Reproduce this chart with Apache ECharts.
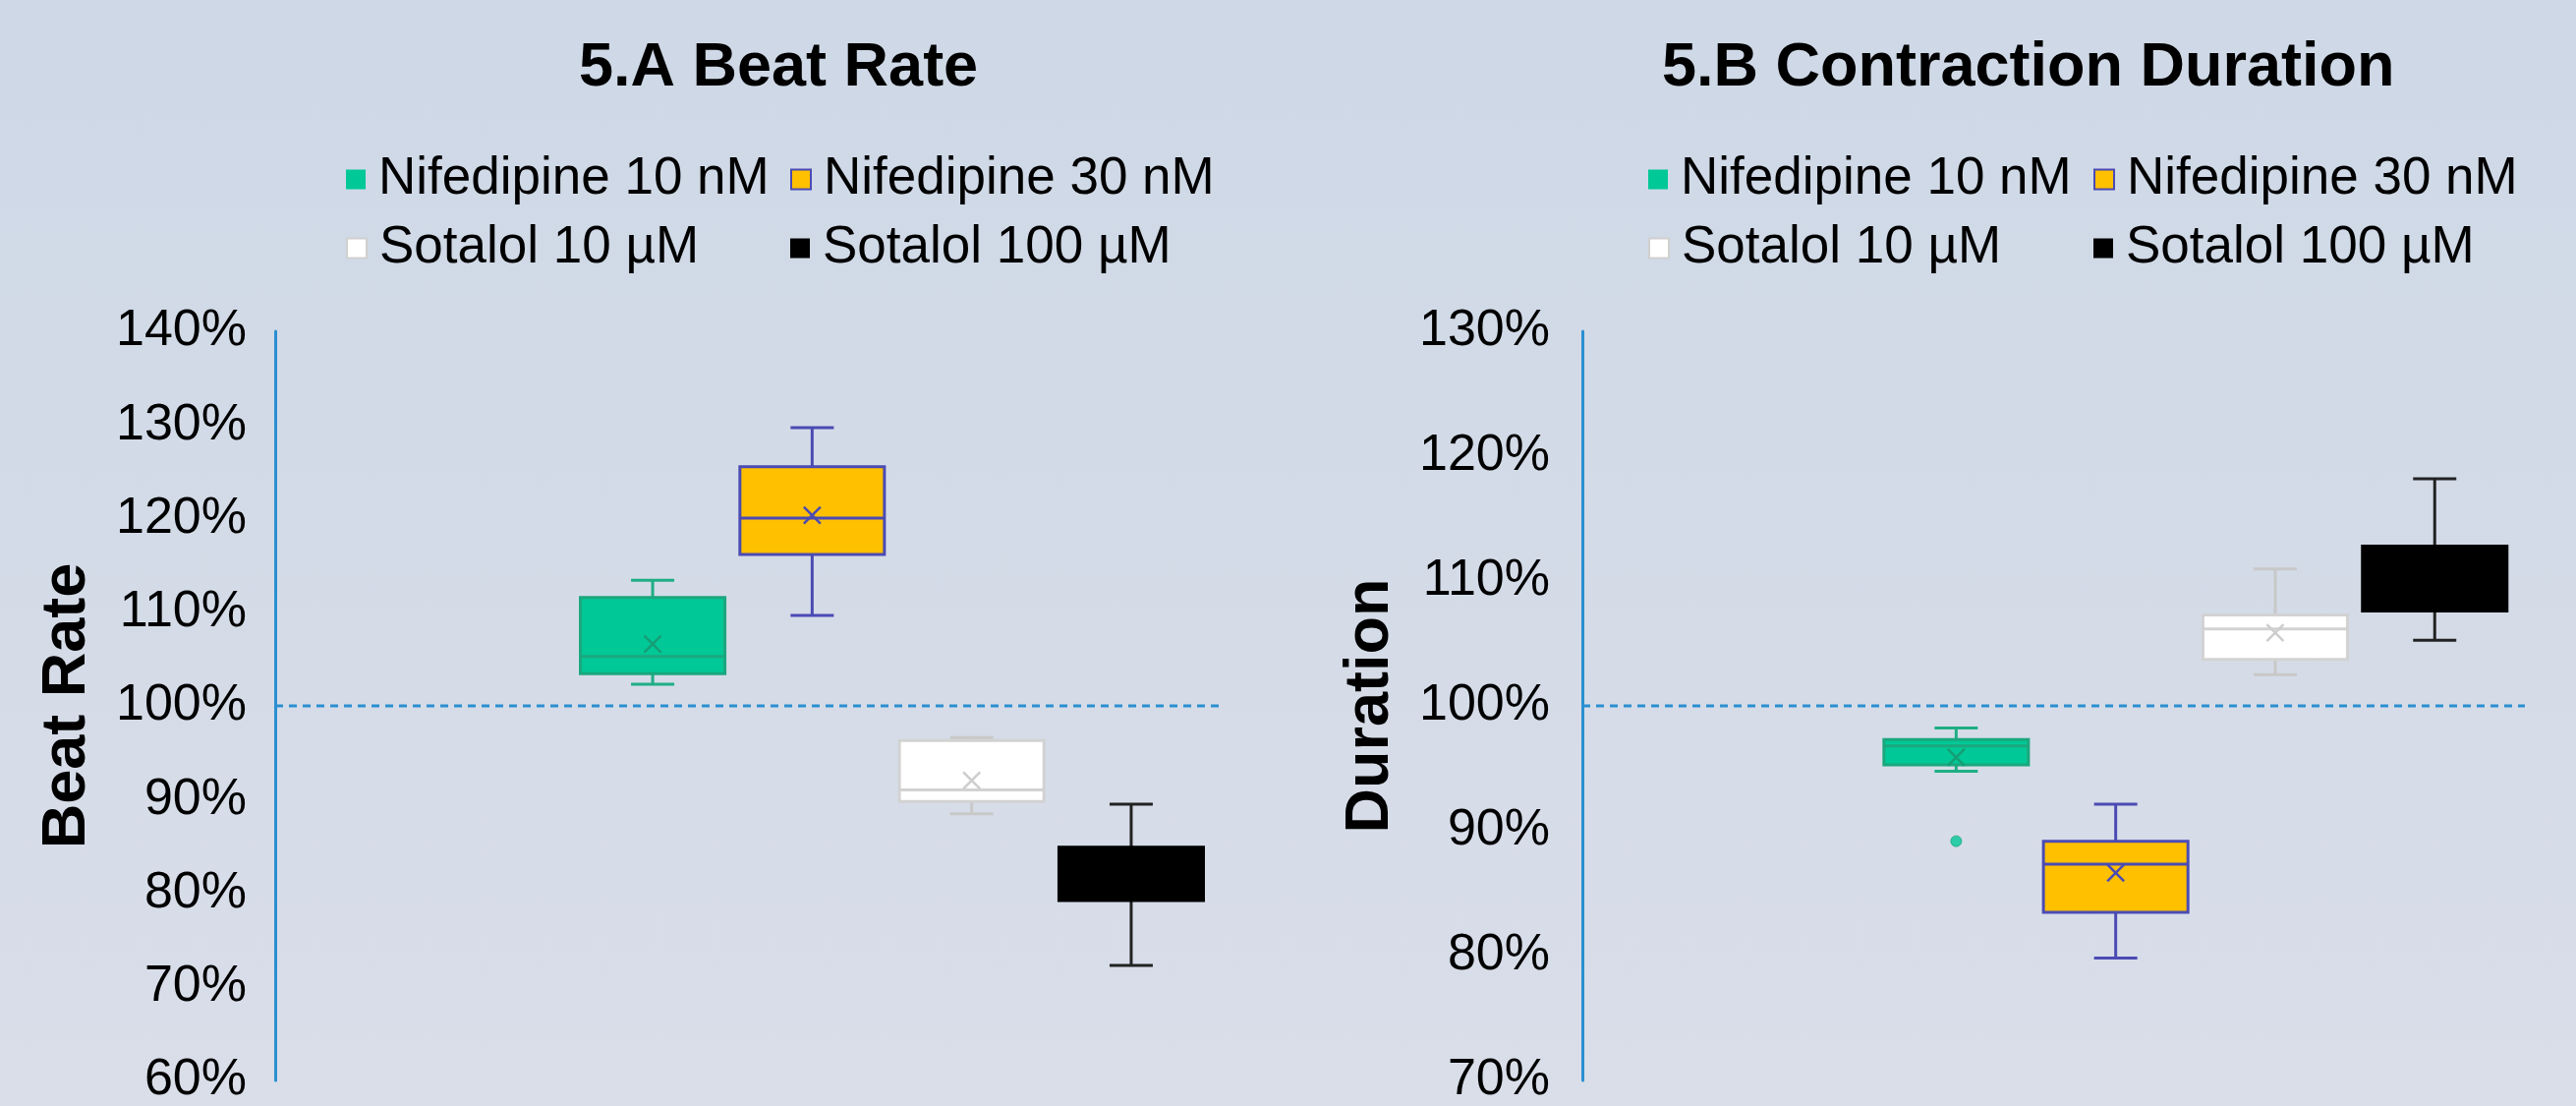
<!DOCTYPE html>
<html><head><meta charset="utf-8">
<script src="https://cdn.jsdelivr.net/npm/echarts@6/dist/echarts.min.js"></script>
<style>html,body{margin:0;padding:0;width:2621px;height:1125px;overflow:hidden;background:#d3dae7}#c{width:2621px;height:1125px}</style>
</head><body><div id="c"></div><script>
// ---- data ----
const compounds = ['Nifedipine 10 nM', 'Nifedipine 30 nM', 'Sotalol 10 µM', 'Sotalol 100 µM'];
const panelTitles = ['5.A Beat Rate', '5.B Contraction Duration'];
const axisNames = ['Beat Rate', 'Duration'];
// [min, q1, median, q3, max] in %
const beatRateBox = [
  [103.0, 104.1, 105.9, 112.1, 113.9],
  [110.2, 116.6, 120.4, 125.8, 129.9],
  [89.4, 90.7, 91.9, 97.1, 97.4],
  [73.5, 80.3, 83.0, 85.9, 90.4]
];
const beatRateMean = [107.2, 120.7, 92.9, 83.2];
const beatRateOutliers = [];
const durationBox = [
  [95.4, 95.9, 97.4, 97.9, 98.8],
  [80.7, 84.3, 88.1, 89.9, 92.8],
  [103.0, 104.2, 106.6, 107.7, 111.3],
  [105.7, 108.0, 110.5, 113.1, 118.4]
];
const durationMean = [96.5, 87.4, 106.3, 110.8];
const durationOutliers = [[0, 89.9]];
const beatRateTicks = { min: 60, max: 140, interval: 10 };
const durationTicks = { min: 70, max: 130, interval: 10 };
const referenceLevel = 100;

// ---- styles / layout ----
const FONT = '"Liberation Sans", Arial, sans-serif';
const styles = [
  { fill: '#00c896', stroke: '#1ba77e', median: '#1ba77e', whisker: '#1fae84', mean: '#169e76' },
  { fill: '#ffc000', stroke: '#4b4bb3', median: '#4b4bb3', whisker: '#4b4bb3', mean: '#4b4bb3' },
  { fill: '#ffffff', stroke: '#d2d2d2', median: '#d2d2d2', whisker: '#c8c8c8', mean: '#cdcdcd' },
  { fill: '#000000', stroke: '#000000', median: '#000000', whisker: '#222222', mean: '#000000' }
];
const AXIS_BLUE = '#2b8fd0';
const GRID_TOP = 337, GRID_H = 776;
const panels = [
  { box: beatRateBox, mean: beatRateMean, outliers: beatRateOutliers, ticks: beatRateTicks,
    axisLeft: 280, axisWidth: 966, axisOffset: 8, boxLeft: 582.9, titleLeft: 584, legendX: [352, 804] },
  { box: durationBox, mean: durationMean, outliers: durationOutliers, ticks: durationTicks,
    axisLeft: 1610, axisWidth: 959, axisOffset: 12, boxLeft: 1909.2, titleLeft: 1686, legendX: [1677, 2130] }
];
const BAND = 162.3, BOX_FRAC = 0.906, CAP_FRAC = 0.271, MEAN_HALF = 8.5;
const legendRowsTop = [156, 226];

function makeRender(st) {
  return function (params, api) {
    const i = api.value(0);
    const mn = api.value(1), q1 = api.value(2), md = api.value(3), q3 = api.value(4), mx = api.value(5), mean = api.value(6);
    const band = api.size([1, 0])[0];
    const bw = band * BOX_FRAC, cw = band * CAP_FRAC;
    const pMin = api.coord([i, mn]), pQ1 = api.coord([i, q1]), pMd = api.coord([i, md]);
    const pQ3 = api.coord([i, q3]), pMx = api.coord([i, mx]), pMean = api.coord([i, mean]);
    const cx = pMd[0];
    const lw = 3;
    const ls = { stroke: st.whisker, lineWidth: lw };
    return {
      type: 'group',
      children: [
        { type: 'line', shape: { x1: cx, y1: pMx[1], x2: cx, y2: pQ3[1] }, style: ls },
        { type: 'line', shape: { x1: cx, y1: pQ1[1], x2: cx, y2: pMin[1] }, style: ls },
        { type: 'line', shape: { x1: cx - cw / 2, y1: pMx[1], x2: cx + cw / 2, y2: pMx[1] }, style: ls },
        { type: 'line', shape: { x1: cx - cw / 2, y1: pMin[1], x2: cx + cw / 2, y2: pMin[1] }, style: ls },
        { type: 'rect', shape: { x: cx - bw / 2, y: pQ3[1], width: bw, height: pQ1[1] - pQ3[1] },
          style: { fill: st.fill, stroke: st.stroke, lineWidth: lw } },
        { type: 'line', shape: { x1: cx - bw / 2, y1: pMd[1], x2: cx + bw / 2, y2: pMd[1] }, style: { stroke: st.median, lineWidth: lw } },
        { type: 'line', shape: { x1: cx - MEAN_HALF, y1: pMean[1] - MEAN_HALF, x2: cx + MEAN_HALF, y2: pMean[1] + MEAN_HALF }, style: { stroke: st.mean, lineWidth: 2.5 } },
        { type: 'line', shape: { x1: cx - MEAN_HALF, y1: pMean[1] + MEAN_HALF, x2: cx + MEAN_HALF, y2: pMean[1] - MEAN_HALF }, style: { stroke: st.mean, lineWidth: 2.5 } }
      ]
    };
  };
}

const option = {
  backgroundColor: { type: 'linear', x: 0, y: 0, x2: 0, y2: 1,
    colorStops: [{ offset: 0, color: '#ced8e6' }, { offset: 1, color: '#d9dee9' }] },
  animation: false,
  title: [], legend: [], grid: [], xAxis: [], yAxis: [], series: []
};

panels.forEach(function (p, k) {
  option.title.push({ text: panelTitles[k], left: p.titleLeft, top: 33,
    textStyle: { fontSize: 63, fontWeight: 'bold', fontFamily: FONT, color: '#000' } });
  compounds.forEach(function (name, i) {
    const st = styles[i];
    option.legend.push({
      data: [{ name: name, icon: 'rect',
        itemStyle: { color: st.fill, borderColor: i === 1 ? '#4b4bb3' : (i === 2 ? '#d0d0d0' : st.fill), borderWidth: (i === 1 || i === 2) ? 2 : 0 } }],
      left: p.legendX[i % 2], top: legendRowsTop[Math.floor(i / 2)],
      orient: 'horizontal', padding: 0, itemWidth: 20, itemHeight: 20, selectedMode: false,
      textStyle: { fontSize: 53, fontFamily: FONT, color: '#000', padding: [0, 0, 0, 8] }
    });
  });
  const ga = option.grid.length;
  option.grid.push({ left: p.axisLeft, top: GRID_TOP, width: p.axisWidth, height: GRID_H });
  option.grid.push({ left: p.boxLeft, top: GRID_TOP, width: BAND * 4, height: GRID_H });
  option.xAxis.push({ type: 'value', gridIndex: ga, min: 0, max: 1, show: false });
  option.xAxis.push({ type: 'category', gridIndex: ga + 1, data: compounds, show: false });
  option.yAxis.push({
    type: 'value', gridIndex: ga, min: p.ticks.min, max: p.ticks.max, interval: p.ticks.interval,
    offset: p.axisOffset,
    axisLine: { show: true, lineStyle: { color: AXIS_BLUE, width: 3 } },
    axisTick: { show: false }, splitLine: { show: false },
    axisLabel: { fontSize: 52, fontFamily: FONT, color: '#000', margin: 21, formatter: '{value}%' },
    name: axisNames[k], nameLocation: 'middle', nameGap: 172, nameRotate: 90,
    nameTextStyle: { fontSize: 63, fontWeight: 'bold', fontFamily: FONT, color: '#000' }
  });
  option.yAxis.push({ type: 'value', gridIndex: ga + 1, min: p.ticks.min, max: p.ticks.max, interval: p.ticks.interval, show: false });
  option.series.push({
    type: 'line', xAxisIndex: ga, yAxisIndex: ga, silent: true, symbol: 'none',
    data: [[0, referenceLevel], [1, referenceLevel]],
    lineStyle: { color: AXIS_BLUE, width: 3, type: [8, 6] }, z: 1
  });
  compounds.forEach(function (name, i) {
    option.series.push({
      type: 'custom', name: name, xAxisIndex: ga + 1, yAxisIndex: ga + 1,
      renderItem: makeRender(styles[i]),
      itemStyle: { color: styles[i].fill, borderColor: styles[i].stroke },
      encode: { x: 0, y: [1, 2, 3, 4, 5, 6] },
      data: [[i].concat(p.box[i], [p.mean[i]])], z: 3
    });
  });
  if (p.outliers.length) {
    option.series.push({
      type: 'scatter', name: compounds[0], xAxisIndex: ga + 1, yAxisIndex: ga + 1,
      data: p.outliers, symbol: 'circle', symbolSize: 11,
      itemStyle: { color: styles[0].fill, borderColor: styles[0].stroke, borderWidth: 1 }, z: 4
    });
  }
});

const chart = echarts.init(document.getElementById('c'), null, { renderer: 'canvas' });
chart.setOption(option);
</script></body></html>
